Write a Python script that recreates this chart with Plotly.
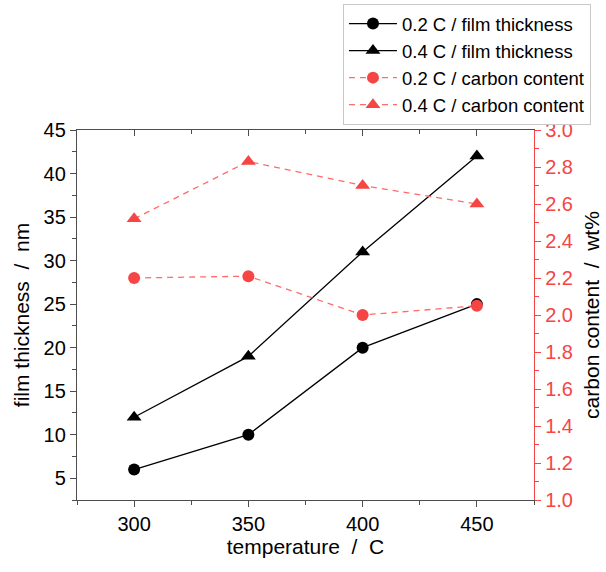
import plotly.graph_objects as go

temperature = [300, 350, 400, 450]
thick_02 = [6, 10, 20, 25]
thick_04 = [12, 19, 31, 42]
carbon_02 = [2.20, 2.21, 2.00, 2.05]
carbon_04 = [2.52, 2.83, 2.70, 2.60]

RED = "#f64545"
RED_LINE = "#ff6a6a"
AX = "#4d4d4d"
FONT = "Liberation Sans, Arial, sans-serif"

fig = go.Figure()
fig.add_trace(go.Scatter(x=temperature, y=thick_02, name="0.2 C / film thickness",
                         mode="lines+markers", line=dict(color="black", width=1.3),
                         marker=dict(symbol="circle", size=12, color="black")))
fig.add_trace(go.Scatter(x=temperature, y=thick_04, name="0.4 C / film thickness",
                         mode="lines+markers", line=dict(color="black", width=1.3),
                         marker=dict(symbol="triangle-up", size=13, color="black")))
fig.add_trace(go.Scatter(x=temperature, y=carbon_02, name="0.2 C / carbon content",
                         mode="lines+markers", yaxis="y2",
                         line=dict(color=RED_LINE, width=1.3, dash="6px,5px"),
                         marker=dict(symbol="circle", size=12, color=RED)))
fig.add_trace(go.Scatter(x=temperature, y=carbon_04, name="0.4 C / carbon content",
                         mode="lines+markers", yaxis="y2",
                         line=dict(color=RED_LINE, width=1.3, dash="6px,5px"),
                         marker=dict(symbol="triangle-up", size=13, color=RED)))
# helper invisible trace to activate the top axis
fig.add_trace(go.Scatter(x=[temperature[0]], y=[thick_02[0]], xaxis="x2", mode="markers",
                         marker=dict(opacity=0), showlegend=False, hoverinfo="skip"))

fig.update_layout(
    width=606, height=572,
    margin=dict(l=77, r=72, t=130, b=72, autoexpand=False),
    paper_bgcolor="white", plot_bgcolor="white",
    font=dict(family=FONT, size=20, color="black"),
    showlegend=True,
    legend=dict(x=0.582, y=0.993, xanchor="left", yanchor="top", yref="container",
                bordercolor="#c8c8c8", borderwidth=1, bgcolor="white",
                font=dict(size=18.5, family=FONT), tracegroupgap=0,
                itemwidth=48),
    xaxis=dict(range=[275, 475], dtick=50, tick0=300, ticks="outside", ticklen=6,
               tickwidth=1.3, tickcolor=AX, showline=True, linecolor=AX, linewidth=1.3,
               showgrid=False, zeroline=False,
               minor=dict(dtick=25, tick0=300, ticks="outside", ticklen=4, tickcolor=AX,
                          tickwidth=1.2, showgrid=False),
               title=dict(text="temperature  /  C", standoff=0, font=dict(size=21)),
               tickfont=dict(size=20)),
    xaxis2=dict(range=[275, 475], overlaying="x", side="top", anchor="y",
                dtick=50, tick0=300, ticks="inside", ticklen=6, tickwidth=1.3, tickcolor=AX,
                showticklabels=False, showline=True, linecolor=AX, linewidth=1.3,
                showgrid=False, zeroline=False,
                minor=dict(dtick=25, tick0=300, ticks="inside", ticklen=4, tickcolor=AX,
                           tickwidth=1.2, showgrid=False)),
    yaxis=dict(range=[2.5, 45], dtick=5, tick0=5, ticks="outside", ticklen=6,
               tickwidth=1.3, tickcolor=AX, showline=True, linecolor=AX, linewidth=1.3,
               showgrid=False, zeroline=False,
               minor=dict(dtick=2.5, tick0=2.5, ticks="outside", ticklen=4, tickcolor=AX,
                          tickwidth=1.2, showgrid=False),
               title=dict(text="film thickness  /  nm", standoff=8, font=dict(size=21)),
               tickfont=dict(size=20)),
    yaxis2=dict(range=[1, 3], dtick=0.2, tick0=1, overlaying="y", side="right", anchor="x",
                ticks="outside", ticklen=6, tickwidth=1.3, tickcolor=RED,
                showline=True, linecolor=RED, linewidth=1.3, showgrid=False, zeroline=False,
                tickformat=".1f",
                minor=dict(dtick=0.1, tick0=1, ticks="outside", ticklen=4, tickcolor=RED,
                           tickwidth=1.2, showgrid=False),
                tickfont=dict(size=20, color=RED),
                title=dict(text="carbon content  /  wt%", standoff=12,
                           font=dict(size=21, color="black"))),
)

fig.write_html("out.html")
